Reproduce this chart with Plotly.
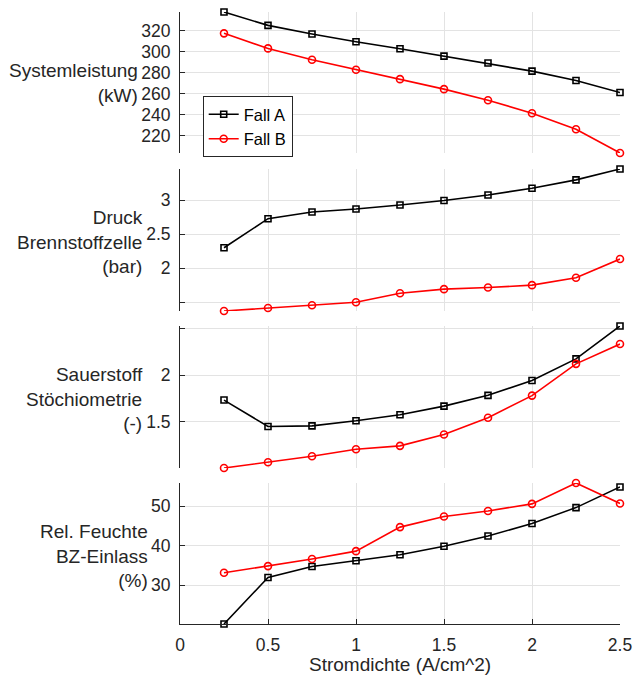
import plotly.graph_objects as go

# ---- data ----
stromdichte = [0.25, 0.5, 0.75, 1.0, 1.25, 1.5, 1.75, 2.0, 2.25, 2.5]

leistung_A = [337.5, 324.8, 316.6, 309.2, 302.6, 295.6, 289.0, 281.3, 272.4, 261.0]
leistung_B = [317.2, 302.9, 292.1, 282.6, 273.7, 264.2, 253.7, 241.3, 226.1, 203.5]

druck_A = [2.30, 2.728, 2.827, 2.871, 2.93, 2.995, 3.078, 3.177, 3.30, 3.46]
druck_B = [1.368, 1.413, 1.453, 1.497, 1.63, 1.69, 1.714, 1.749, 1.857, 2.133]

stoech_A = [1.733, 1.449, 1.456, 1.51, 1.575, 1.668, 1.784, 1.943, 2.176, 2.529]
stoech_B = [1.003, 1.064, 1.129, 1.204, 1.241, 1.363, 1.543, 1.781, 2.122, 2.335]

feuchte_A = [20.1, 31.9, 34.7, 36.15, 37.7, 39.85, 42.45, 45.6, 49.65, 54.9]
feuchte_B = [33.1, 34.8, 36.6, 38.6, 44.7, 47.4, 48.8, 50.6, 55.9, 50.7]

x_ticks = [0, 0.5, 1, 1.5, 2, 2.5]
x_ticktext = ["0", "0.5", "1", "1.5", "2", "2.5"]

y_ticks = [
    [220, 240, 260, 280, 300, 320],
    [1.5, 2, 2.5, 3],
    [1.5, 2, 2.5],
    [30, 40, 50],
]
y_ticktext = [
    ["220", "240", "260", "280", "300", "320"],
    ["", "2", "2.5", "3"],
    ["1.5", "2", ""],
    ["30", "40", "50"],
]
y_labels = [
    "Systemleistung<br>(kW)",
    "Druck<br>Brennstoffzelle<br>(bar)",
    "Sauerstoff<br>Stöchiometrie<br>(-)",
    "Rel. Feuchte<br>BZ-Einlass<br>(%)",
]
x_label = "Stromdichte (A/cm^2)"
series_names = ["Fall A", "Fall B"]

panels = [
    (leistung_A, leistung_B),
    (druck_A, druck_B),
    (stoech_A, stoech_B),
    (feuchte_A, feuchte_B),
]

# ---- layout geometry (pixels) ----
W, H = 633, 682
x_left, x_right = 180, 620
panel_px = [(12, 153), (169, 311), (326, 468), (483, 624)]
label_right = [140, 145, 145, 150]
label_center = [83.3, 241.5, 399, 556]

TXT = "#262626"
FONT = "Liberation Sans, Arial, Helvetica, sans-serif"
TICK_FS = 17.5
LABEL_FS = 19

fig = go.Figure()

for i, (a, b) in enumerate(panels):
    ax = "" if i == 0 else str(i + 1)
    fig.add_trace(go.Scatter(
        x=stromdichte, y=a, name=series_names[0], mode="lines+markers",
        line=dict(color="black", width=1.6),
        marker=dict(symbol="square-open", size=6, color="black", line=dict(width=1.6)),
        xaxis="x" + ax, yaxis="y" + ax, cliponaxis=False, showlegend=(i == 0),
    ))
    fig.add_trace(go.Scatter(
        x=stromdichte, y=b, name=series_names[1], mode="lines+markers",
        line=dict(color="#ff0000", width=1.6),
        marker=dict(symbol="circle-open", size=7, color="#ff0000", line=dict(width=1.6)),
        xaxis="x" + ax, yaxis="y" + ax, cliponaxis=False, showlegend=(i == 0),
    ))

layout = dict(
    template="none",
    width=W, height=H, autosize=False,
    margin=dict(l=0, r=0, t=0, b=0, pad=0),
    paper_bgcolor="white", plot_bgcolor="white",
    font=dict(family=FONT, color=TXT, size=TICK_FS),
    hovermode=False,
    legend=dict(
        x=202.7 / W, y=1 - 96 / H, xanchor="left", yanchor="top",
        bgcolor="white", bordercolor=TXT, borderwidth=1,
        font=dict(size=16.5, color="black"),
        tracegroupgap=0, itemwidth=30,
    ),
)

annotations = []
for i in range(4):
    ax = "" if i == 0 else str(i + 1)
    top, bot = panel_px[i]
    allv = list(panels[i][0]) + list(panels[i][1])
    last = (i == 3)
    layout["xaxis" + ax] = dict(
        domain=[x_left / W, x_right / W],
        range=[0, 2.5],
        anchor="y" + ax,
        automargin=False,
        tickvals=x_ticks, ticktext=x_ticktext,
        showticklabels=last,
        showgrid=True, gridcolor="#e3e3e3", gridwidth=1,
        zeroline=False,
        showline=last, linecolor=TXT, linewidth=1,
        ticks="inside" if last else "", ticklen=5, tickcolor=TXT,
        ticklabelstandoff=5,
        tickfont=dict(size=TICK_FS, color=TXT),
        matches="x" if i > 0 else None,
    )
    layout["yaxis" + ax] = dict(
        domain=[1 - bot / H, 1 - top / H],
        range=[min(allv), max(allv)],
        anchor="x" + ax,
        automargin=False,
        tickvals=y_ticks[i], ticktext=y_ticktext[i],
        showgrid=True, gridcolor="#e3e3e3", gridwidth=1,
        zeroline=False,
        showline=True, linecolor=TXT, linewidth=1,
        ticks="inside", ticklen=5, tickcolor=TXT,
        ticklabelstandoff=5,
        tickfont=dict(size=TICK_FS, color=TXT),
    )
    annotations.append(dict(
        text=y_labels[i], xref="paper", yref="paper",
        x=label_right[i] / W, y=1 - label_center[i] / H,
        xanchor="right", yanchor="middle", align="right",
        showarrow=False, font=dict(size=LABEL_FS, color=TXT, family=FONT),
    ))

annotations.append(dict(
    text=x_label, xref="paper", yref="paper",
    x=(x_left + x_right) / 2 / W, y=1 - 664 / H,
    xanchor="center", yanchor="middle",
    showarrow=False, font=dict(size=LABEL_FS, color=TXT, family=FONT),
))
layout["annotations"] = annotations

fig.update_layout(**layout)
fig.write_html(
    "out.html",
    config={"responsive": False, "displayModeBar": False},
    post_script="document.body.style.margin='0';document.body.style.overflow='hidden';",
)
